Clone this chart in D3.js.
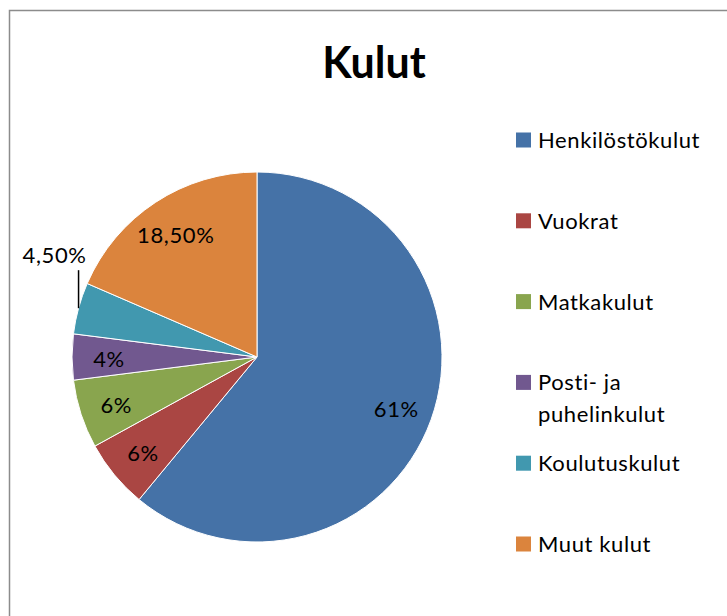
<!DOCTYPE html>
<html>
<head>
<meta charset="utf-8">
<script src="https://cdn.jsdelivr.net/npm/d3@7"></script>
<style>
  body { margin: 0; background: #fff; }
  text { font-family: Lato, "Open Sans", sans-serif; fill: #000; font-variant-ligatures: none; }
</style>
</head>
<body>
<div id="chart"></div>
<script>
// chart data
const categories = ["Henkilöstökulut", "Vuokrat", "Matkakulut", "Posti- ja puhelinkulut", "Koulutuskulut", "Muut kulut"];
const values = [61, 6, 6, 4, 4.5, 18.5];
const valueLabels = ["61%", "6%", "6%", "4%", "4,50%", "18,50%"];
const legendLines = [["Henkilöstökulut"], ["Vuokrat"], ["Matkakulut"], ["Posti- ja", "puhelinkulut"], ["Koulutuskulut"], ["Muut kulut"]];
const colors = ["#4572A7", "#AA4643", "#89A54E", "#71588F", "#4198AF", "#DB843D"];

const width = 727, height = 616;
const cx = 257, cy = 357, radius = 185;

const svg = d3.select("#chart")
	.append("svg")
	.attr("width", width)
	.attr("height", height);

// chart area border
svg.append("rect")
	.attr("x", 9.5)
	.attr("y", 10.5)
	.attr("width", width + 20)
	.attr("height", height + 20)
	.style("fill", "#fff")
	.style("stroke", "#8c8c8c")
	.style("stroke-width", 1.5);

svg.append("text")
	.attr("x", 374)
	.attr("y", 78)
	.attr("text-anchor", "middle")
	.style("font-size", "43px")
	.style("font-weight", "bold")
	.text("Kulut");

const pie = d3.pie().sort(null).value(d => d);
const arcs = pie(values);

const arc = d3.arc().innerRadius(0).outerRadius(radius);
const labelArc = d3.arc().innerRadius(radius * 0.8).outerRadius(radius * 0.8);

const g = svg.append("g")
	.attr("transform", "translate(" + cx + "," + cy + ")");

g.selectAll("path.slice")
	.data(arcs)
	.enter().append("path")
	.attr("class", "slice")
	.attr("d", arc)
	.style("fill", (d, i) => colors[i])
	.style("stroke", "#fff")
	.style("stroke-width", 1);

// data labels, the 4,50% one sits outside with a leader line
const outside = 4;
g.selectAll("text.label")
	.data(arcs)
	.enter().append("text")
	.attr("class", "label")
	.attr("text-anchor", "middle")
	.attr("dy", "0.45em")
	.style("font-size", "22px")
	.style("letter-spacing", "0.6px")
	.attr("transform", (d, i) => {
		if (i === outside) {
			let a = (d.startAngle + d.endAngle) / 2;
			let ex = radius * Math.sin(a), ey = -radius * Math.cos(a);
			return "translate(" + (ex - 24) + "," + (ey - 55) + ")";
		}
		return "translate(" + labelArc.centroid(d) + ")";
	})
	.text((d, i) => valueLabels[i]);

let tealArc = arcs[outside];
let ta = (tealArc.startAngle + tealArc.endAngle) / 2;
g.append("line")
	.attr("x1", radius * Math.sin(ta))
	.attr("x2", radius * Math.sin(ta))
	.attr("y1", -radius * Math.cos(ta))
	.attr("y2", -radius * Math.cos(ta) - 38)
	.style("stroke", "#000")
	.style("stroke-width", 1.5);

// legend
const legendY = d3.scalePoint().domain(d3.range(categories.length)).range([140, 544]);

const legend = svg.selectAll("g.legend")
	.data(categories)
	.enter().append("g")
	.attr("class", "legend")
	.attr("transform", (d, i) => "translate(516," + legendY(i) + ")");

legend.append("rect")
	.attr("x", 0)
	.attr("y", -7.5)
	.attr("width", 15)
	.attr("height", 15)
	.style("fill", (d, i) => colors[i]);

legend.append("text")
	.attr("x", 22)
	.attr("y", 8)
	.style("font-size", "22px")
	.style("letter-spacing", "0.6px")
	.selectAll("tspan")
	.data((d, i) => legendLines[i])
	.enter().append("tspan")
	.attr("x", 22)
	.attr("dy", (d, j) => j === 0 ? 0 : 32)
	.text(d => d);
</script>
</body>
</html>
